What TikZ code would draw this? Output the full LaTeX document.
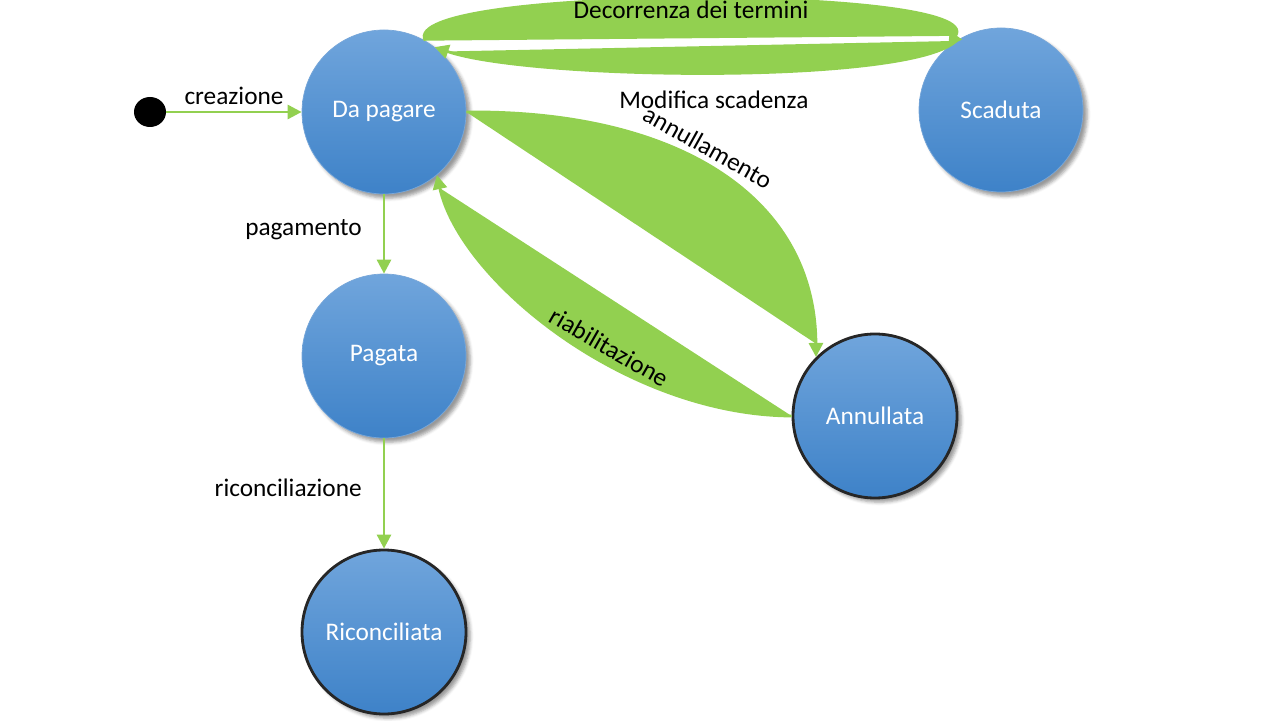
\documentclass[tikz,border=0pt]{standalone}
\usepackage{fontspec}
\setmainfont{Carlito}
\usetikzlibrary{arrows.meta, positioning, shapes.geometric, shadows.blur}
\definecolor{statetop}{RGB}{112,165,220}
\definecolor{statebot}{RGB}{62,130,200}
\definecolor{transgreen}{RGB}{146,208,80}

\begin{document}
\begin{tikzpicture}[
  state/.style={circle, minimum size=3.28cm, draw=statebot!70, top color=statetop, bottom color=statebot, text=white, font=\Large, blur shadow},
  final/.style={state, draw=black!85, line width=1.6pt},
  init/.style={ellipse, fill=black, minimum width=0.64cm, minimum height=0.6cm, inner sep=0pt},
  trans/.style={-{Triangle[length=8pt,width=8pt]}, line width=1.6pt, draw=transgreen, fill=transgreen},
  lbl/.style={font=\Large, text=black},
  every node/.style={font=\Large}
]
\useasboundingbox (0,0) rectangle (25.6,14.4);

% States
\node[init] (start) at (3.0,12.16) {};
\node[state] (dapagare) at (7.68,12.16) {Da pagare};
\node[state] (scaduta) at (20.02,12.2) {Scaduta};
\node[state] (pagata) at (7.68,7.28) {Pagata};
\node[final] (annullata) at (17.5,6.08) {Annullata};
\node[final] (riconciliata) at (7.68,1.76) {Riconciliata};

% Transitions
\draw[trans] (start) -- node[lbl, above] {creazione} (dapagare);
\draw[trans] (dapagare.60) .. controls (7.9,14.7) and (19.8,14.7) .. node[lbl, pos=0.5, yshift=-6pt] {Decorrenza dei termini} (scaduta.130);
\draw[trans] (scaduta.123) .. controls (18.2,12.7) and (10.6,12.8) .. node[lbl, below, pos=0.5, yshift=-6pt] {Modifica scadenza} (dapagare.52);
\draw[trans] (dapagare.east) .. controls (13.5,12.2) and (16.3,10.5) .. node[lbl, sloped, above, pos=0.45] {annullamento} (annullata.north west);
\draw[trans] (annullata.west) .. controls (12.5,6.1) and (9.2,8.8) .. node[lbl, sloped, above, pos=0.4] {riabilitazione} (dapagare.-50);
\draw[trans] (dapagare) -- node[lbl, left=0.3cm, pos=0.45] {pagamento} (pagata);
\draw[trans] (pagata) -- node[lbl, left=0.3cm, pos=0.45] {riconciliazione} (riconciliata);

\end{tikzpicture}
\end{document}
